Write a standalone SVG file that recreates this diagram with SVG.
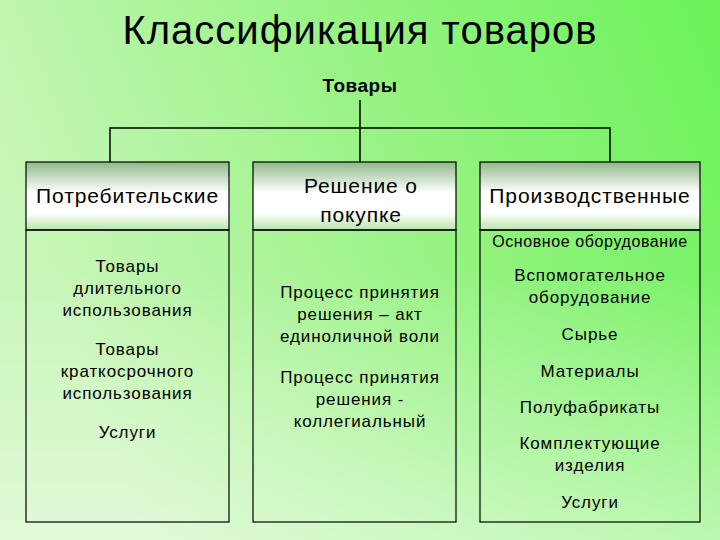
<svg xmlns="http://www.w3.org/2000/svg" width="720" height="540" viewBox="0 0 720 540">
<defs>
<linearGradient id="bg" x1="0" y1="0.3" x2="1" y2="0">
<stop offset="0" stop-color="#c8f6b8"/><stop offset="0.5" stop-color="#98f384"/><stop offset="1" stop-color="#6cf25a"/>
</linearGradient>
<linearGradient id="bg2" x1="0" y1="0" x2="0" y2="1">
<stop offset="0.5" stop-color="#ffffff" stop-opacity="0"/><stop offset="1" stop-color="#ffffff" stop-opacity="0.45"/>
</linearGradient>
<linearGradient id="hd" x1="0" y1="0" x2="0" y2="1">
<stop offset="0" stop-color="#8fb888"/><stop offset="0.45" stop-color="#ffffff"/><stop offset="0.75" stop-color="#ffffff"/><stop offset="1" stop-color="#b5e6a8"/>
</linearGradient>
<style>
.t{font-family:"Liberation Sans",Arial,sans-serif;fill:#000;text-anchor:middle}
.h{font-size:21px;letter-spacing:0.9px}.b{font-size:17px;letter-spacing:0.9px}
.box{fill:none;stroke:#000;stroke-width:1.2}
.hdr{fill:url(#hd);stroke:#000;stroke-width:1.2}
.ln{fill:none;stroke:#000;stroke-width:1.5}
</style>
</defs>
<rect width="720" height="540" fill="url(#bg)"/>
<rect width="720" height="540" fill="url(#bg2)"/>
<text class="t" x="360" y="44" font-size="40" letter-spacing="1">Классификация товаров</text>
<text class="t" x="360" y="92" font-size="19" font-weight="bold" letter-spacing="0.5">Товары</text>
<g id="connectors">
<path class="ln" d="M360 100V162M110 162V128H610V162"/>
</g>
<g id="consumer">
<rect class="hdr" x="26" y="162" width="203" height="68"/>
<rect class="box" x="26" y="230" width="203" height="292"/>
<text class="t h" x="127.5" y="203">Потребительские</text>
<text class="t b"><tspan x="127.5" y="272">Товары</tspan><tspan x="127.5" y="294">длительного</tspan><tspan x="127.5" y="316">использования</tspan><tspan x="127.5" y="355">Товары</tspan><tspan x="127.5" y="377">краткосрочного</tspan><tspan x="127.5" y="399">использования</tspan><tspan x="127.5" y="438">Услуги</tspan></text>
</g>
<g id="decision">
<rect class="hdr" x="253" y="162" width="203" height="68"/>
<rect class="box" x="253" y="230" width="203" height="292"/>
<text class="t h"><tspan x="361" y="193">Решение о</tspan><tspan x="361" y="222">покупке</tspan></text>
<text class="t b"><tspan x="360" y="298">Процесс принятия</tspan><tspan x="360" y="320">решения – акт</tspan><tspan x="360" y="342">единоличной воли</tspan><tspan x="360" y="383">Процесс принятия</tspan><tspan x="360" y="405">решения -</tspan><tspan x="360" y="427">коллегиальный</tspan></text>
</g>
<g id="production">
<rect class="hdr" x="480" y="162" width="220" height="68"/>
<rect class="box" x="480" y="230" width="220" height="292"/>
<text class="t h" x="590" y="203">Производственные</text>
<text class="t" font-size="16" letter-spacing="0.6" x="590" y="247">Основное оборудование</text>
<text class="t b"><tspan x="590" y="281">Вспомогательное</tspan><tspan x="590" y="303">оборудование</tspan><tspan x="590" y="340">Сырье</tspan><tspan x="590" y="377">Материалы</tspan><tspan x="590" y="413">Полуфабрикаты</tspan><tspan x="590" y="449">Комплектующие</tspan><tspan x="590" y="471">изделия</tspan><tspan x="590" y="508">Услуги</tspan></text>
</g>
</svg>
